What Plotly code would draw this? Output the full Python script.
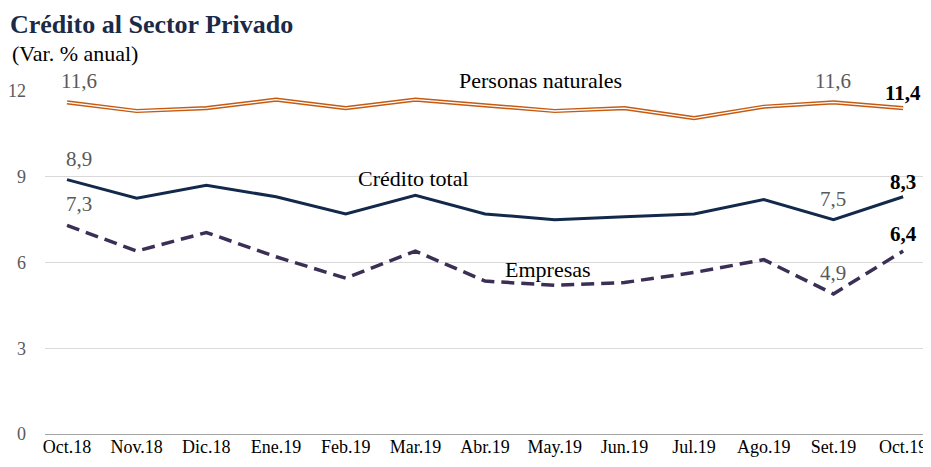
import plotly.graph_objects as go

categories = ["Oct.18", "Nov.18", "Dic.18", "Ene.19", "Feb.19", "Mar.19", "Abr.19",
              "May.19", "Jun.19", "Jul.19", "Ago.19", "Set.19", "Oct.19"]
personas = [11.6, 11.3, 11.4, 11.7, 11.4, 11.7, 11.5, 11.3, 11.4, 11.05, 11.45, 11.6, 11.4]
total = [8.9, 8.25, 8.7, 8.3, 7.7, 8.35, 7.7, 7.5, 7.6, 7.7, 8.2, 7.5, 8.3]
empresas = [7.3, 6.4, 7.05, 6.2, 5.45, 6.4, 5.35, 5.2, 5.3, 5.65, 6.1, 4.9, 6.4]
y_ticks = [0, 3, 6, 9, 12]

FONT = "Liberation Serif"
fig = go.Figure()

fig.add_trace(go.Scatter(x=categories, y=personas, mode="lines",
                         line=dict(color="#c55a11", width=4.2), hoverinfo="skip"))
fig.add_trace(go.Scatter(x=categories, y=personas, mode="lines",
                         line=dict(color="#ffffff", width=1.3), hoverinfo="skip"))
fig.add_trace(go.Scatter(x=categories, y=total, mode="lines",
                         line=dict(color="#13294b", width=3)))
fig.add_trace(go.Scatter(x=categories, y=empresas, mode="lines",
                         line=dict(color="#3b2f55", width=3.5, dash="13px,7px")))

def fmt(v):
    return f"{v:.1f}".replace(".", ",")

def label(series, i, bold=False, xshift=0, yshift=20):
    v = series[i]
    txt = f"<b>{fmt(v)}</b>" if bold else fmt(v)
    fig.add_annotation(x=categories[i], y=v, text=txt, showarrow=False,
                       xshift=xshift, yshift=yshift,
                       font=dict(family=FONT, size=21,
                                 color="#000000" if bold else "#595959"))

label(personas, 0, xshift=12, yshift=21)
label(personas, 11, yshift=21)
label(personas, 12, bold=True, yshift=15)
label(total, 0, xshift=12, yshift=21)
label(total, 11, yshift=21)
label(total, 12, bold=True, yshift=15)
label(empresas, 0, xshift=12, yshift=21)
label(empresas, 11, yshift=21)
label(empresas, 12, bold=True, yshift=17)

for txt, x, y, ys in [("Personas naturales", 6.80, 12, 11),
                      ("Crédito total", 4.97, 9, -2),
                      ("Empresas", 6.90, 6, -7)]:
    fig.add_annotation(x=x, y=y, yshift=ys, text=txt, showarrow=False,
                       font=dict(family=FONT, size=22, color="#000000"))

fig.add_annotation(xref="paper", yref="paper", x=-0.0418, y=1.195, xanchor="left",
                   yanchor="middle", showarrow=False,
                   text="<b>Crédito al Sector Privado</b>",
                   font=dict(family=FONT, size=26, color="#1b2a47"))
fig.add_annotation(xref="paper", yref="paper", x=-0.039, y=1.108, xanchor="left",
                   yanchor="middle", showarrow=False,
                   text="(Var. % anual)",
                   font=dict(family=FONT, size=22, color="#000000"))

fig.update_layout(
    width=923, height=459,
    margin=dict(l=37, r=0, t=83, b=33),
    paper_bgcolor="white", plot_bgcolor="white",
    showlegend=False,
    font=dict(family=FONT, size=18, color="#595959"),
    xaxis=dict(type="category", range=[-0.316, 12.4], showgrid=False,
               showline=False, ticks="", tickfont=dict(color="#000000", size=18)),
    yaxis=dict(range=[0, 12], tickvals=y_ticks, showgrid=True, gridcolor="#d9d9d9",
               gridwidth=1, zeroline=True, zerolinecolor="#a6a6a6", zerolinewidth=1,
               tickfont=dict(color="#595959", size=18), ticklabelstandoff=18),
)

fig.write_html("out.html")
